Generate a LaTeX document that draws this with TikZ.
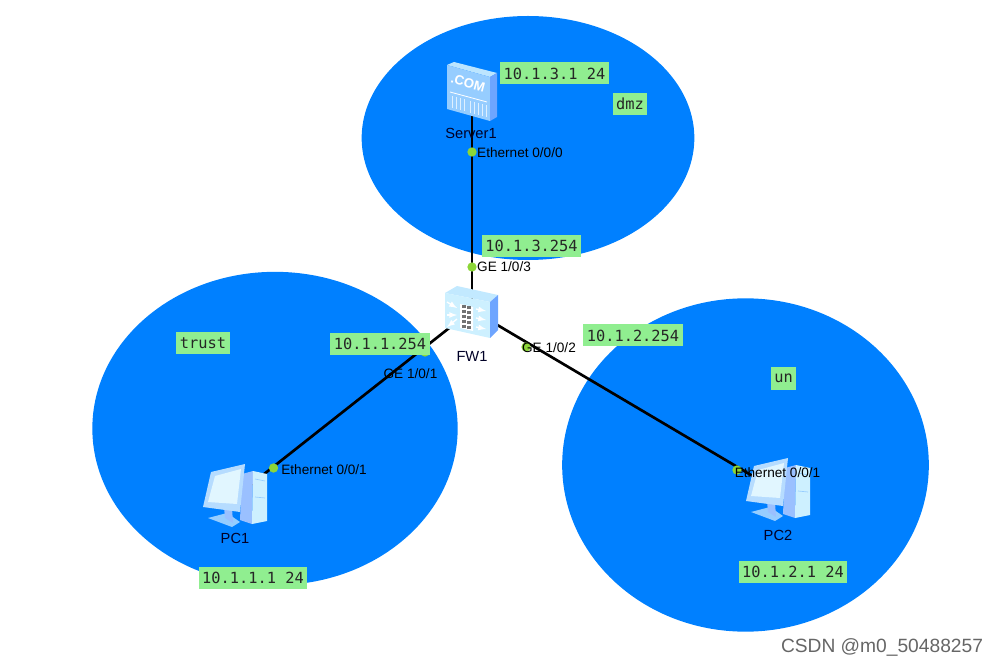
\documentclass[tikz,border=0pt]{standalone}
\usepackage{fontspec}
\setmainfont{Liberation Sans}
\newfontfamily\addrfont{DejaVu Sans Mono}
\usetikzlibrary{positioning,shapes.geometric}
\definecolor{ZoneBlue}{RGB}{0,128,255}
\definecolor{AddrGreen}{RGB}{144,238,144}
\definecolor{PortGreen}{RGB}{140,214,56}
\definecolor{IconLight}{RGB}{205,240,255}
\definecolor{IconMid}{RGB}{150,205,255}
\definecolor{IconSide}{RGB}{110,165,255}
\tikzset{
  zone/.style={ellipse,fill=ZoneBlue,inner sep=0pt},
  addr/.style={fill=AddrGreen,text=black!85,font=\addrfont\fontsize{11.5}{13}\selectfont,
               inner xsep=2.6pt,inner ysep=0pt,minimum height=16.5pt},
  port/.style={circle,fill=PortGreen,inner sep=0pt,minimum size=7pt},
  portlbl/.style={font=\fontsize{10.2}{12}\selectfont,inner sep=0pt,text=black},
  devlbl/.style={font=\fontsize{11}{12}\selectfont,inner sep=0pt,text=black!85!blue},
  device/.style={inner sep=0pt,minimum width=36pt,minimum height=36pt},
  link/.style={line width=2pt,black},
  pcicon/.pic={
    \fill[IconSide!70!white] (7,-23) -- (18,-26) -- (17,27) -- (5,23) -- cycle;
    \fill[IconLight] (18,-26) -- (32,-23) -- (32,24) -- (17,27) -- cycle;
    \draw[IconMid,line width=.5pt] (20,-18) -- (30,-16) (20,0) -- (30,1);
    \fill[IconMid] (-27,21) -- (-8,16) -- (5,25) -- (-3,30) -- cycle;
    \fill[IconSide!70!white] (-11,10) -- (-3,11) -- (-2,26) -- (-10,21) -- cycle;
    \fill[IconMid!70!white] (-24,-25) -- (10,-33) -- (5,15) -- (-32,10) -- cycle;
    \fill[IconLight!60!white] (-20,-21) -- (6,-28) -- (2,7) -- (-27,5) -- cycle;
  },
  fwicon/.pic={
    \fill[IconLight!80!IconMid] (-27,-17) -- (-15,-24) -- (26,-15) -- (18,-8) -- cycle;
    \fill[IconLight] (-27,-17) -- (18,-8) -- (18,28) -- (-27,18) -- cycle;
    \fill[IconSide] (18,-8) -- (26,-15) -- (26,20) -- (18,28) -- cycle;
    \fill[white] (-12,-6) -- (1,-3) -- (1,21) -- (-12,18) -- cycle;
    \foreach \wy in {-4,1,6,11,16} {
      \fill[black!55] (-10,\wy-1) rectangle (-6,\wy+2);
      \fill[black!55] (-5,\wy) rectangle (-1,\wy+3);
    }
    \foreach \ay in {-1,8,17} {
      \draw[white,line width=1pt,->,>=latex] (4,\ay) -- (14,\ay+2);
    }
    \draw[white,line width=1pt,->,>=latex] (-25,-8) -- (-15,-2);
    \draw[white,line width=1pt,->,>=latex] (-25,5) -- (-15,5);
    \draw[white,line width=1pt,->,>=latex] (-15,9) -- (-25,17);
  },
  srvicon/.pic={
    \fill[IconLight!70!IconMid] (-25,-26) -- (-18,-29) -- (25,-18) -- (18,-14) -- cycle;
    \fill[IconMid] (-25,-26) -- (18,-14) -- (18,30) -- (-25,18) -- cycle;
    \fill[IconSide] (18,-14) -- (25,-18) -- (25,26) -- (18,30) -- cycle;
    \node[rotate=-15,text=white,inner sep=0pt,font=\bfseries\fontsize{10}{10}\selectfont] at (-4,-8) {.COM};
    \draw[white,line width=.6pt] (-22,1) -- (15,11);
    \foreach \sx in {-20,-16,-12,-8,-2,2,6,10,14} {
      \draw[white!70!IconMid,line width=.6pt] (\sx,{5+(\sx+20)*.27}) -- (\sx,{17+(\sx+20)*.27});
    }
  },
}
\begin{document}
\begin{tikzpicture}[x=0.75pt,y=-0.75pt]
  \useasboundingbox (0,0) rectangle (999,666);
  % zones
  \node[zone,minimum width=249.5pt,minimum height=183pt] (dmz) at (528,138) {};
  \node[zone,minimum width=274pt,minimum height=235pt] (trust) at (275,428.5) {};
  \node[zone,minimum width=275pt,minimum height=250pt] (un) at (745.5,465) {};
  % devices
  \node[device] (fw1) at (472,310) {};
  \node[device] (server1) at (472,91) {};
  \node[device] (pc1) at (235,497) {};
  \node[device] (pc2) at (778,491) {};
  \draw[link] (server1.center) -- (fw1.center);
  \draw[link] (pc1.center) -- (fw1.center);
  \draw[link] (pc2.center) -- (fw1.center);
  \pic at (fw1.center) {fwicon};
  \pic at (server1.center) {srvicon};
  \pic at (pc1.center) {pcicon};
  \pic at (pc2.center) {pcicon};
  \node[devlbl] (fwname) at (472,356) {FW1};
  \node[devlbl] (srvname) at (471,133) {Server1};
  \node[devlbl] (pc1name) at (235,538) {PC1};
  \node[devlbl] (pc2name) at (778,535) {PC2};
  % ports
  \node[port] (p0) at (472,152) {};
  \node[port] (p1) at (472,267) {};
  \node[port] (p2) at (425,352) {};
  \node[port] (p3) at (273.5,468) {};
  \node[port] (p4) at (526,347) {};
  \node[port] (p5) at (737,470) {};
  \node[portlbl,right=0pt of p0,yshift=-.4pt] (p0lbl) {Ethernet 0/0/0};
  \node[portlbl,right=0pt of p1] (p1lbl) {GE 1/0/3};
  \node[portlbl] (p2lbl) at (410.5,374) {GE 1/0/1};
  \node[portlbl,right=2pt of p3,yshift=-1.5pt] (p3lbl) {Ethernet 0/0/1};
  \node[portlbl] (p4lbl) at (549,347.5) {GE 1/0/2};
  \node[portlbl] (p5lbl) at (777.5,472.5) {Ethernet 0/0/1};
  % addresses
  \node[addr] (a1) at (554.5,73.5) {10.1.3.1 24};
  \node[addr] (a2) at (630,104) {dmz};
  \node[addr] (a3) at (531.5,246) {10.1.3.254};
  \node[addr] (a4) at (633,335.5) {10.1.2.254};
  \node[addr] (a5) at (380,344) {10.1.1.254};
  \node[addr] (a6) at (203,343.5) {trust};
  \node[addr] (a7) at (783.5,378.5) {un};
  \node[addr] (a8) at (253,577.5) {10.1.1.1 24};
  \node[addr] (a9) at (793,572) {10.1.2.1 24};
  \node[text=black!60,inner sep=0pt,font=\fontsize{14.4}{16}\selectfont] (mark) at (882,647) {CSDN @m0\_50488257};
\end{tikzpicture}
\end{document}
